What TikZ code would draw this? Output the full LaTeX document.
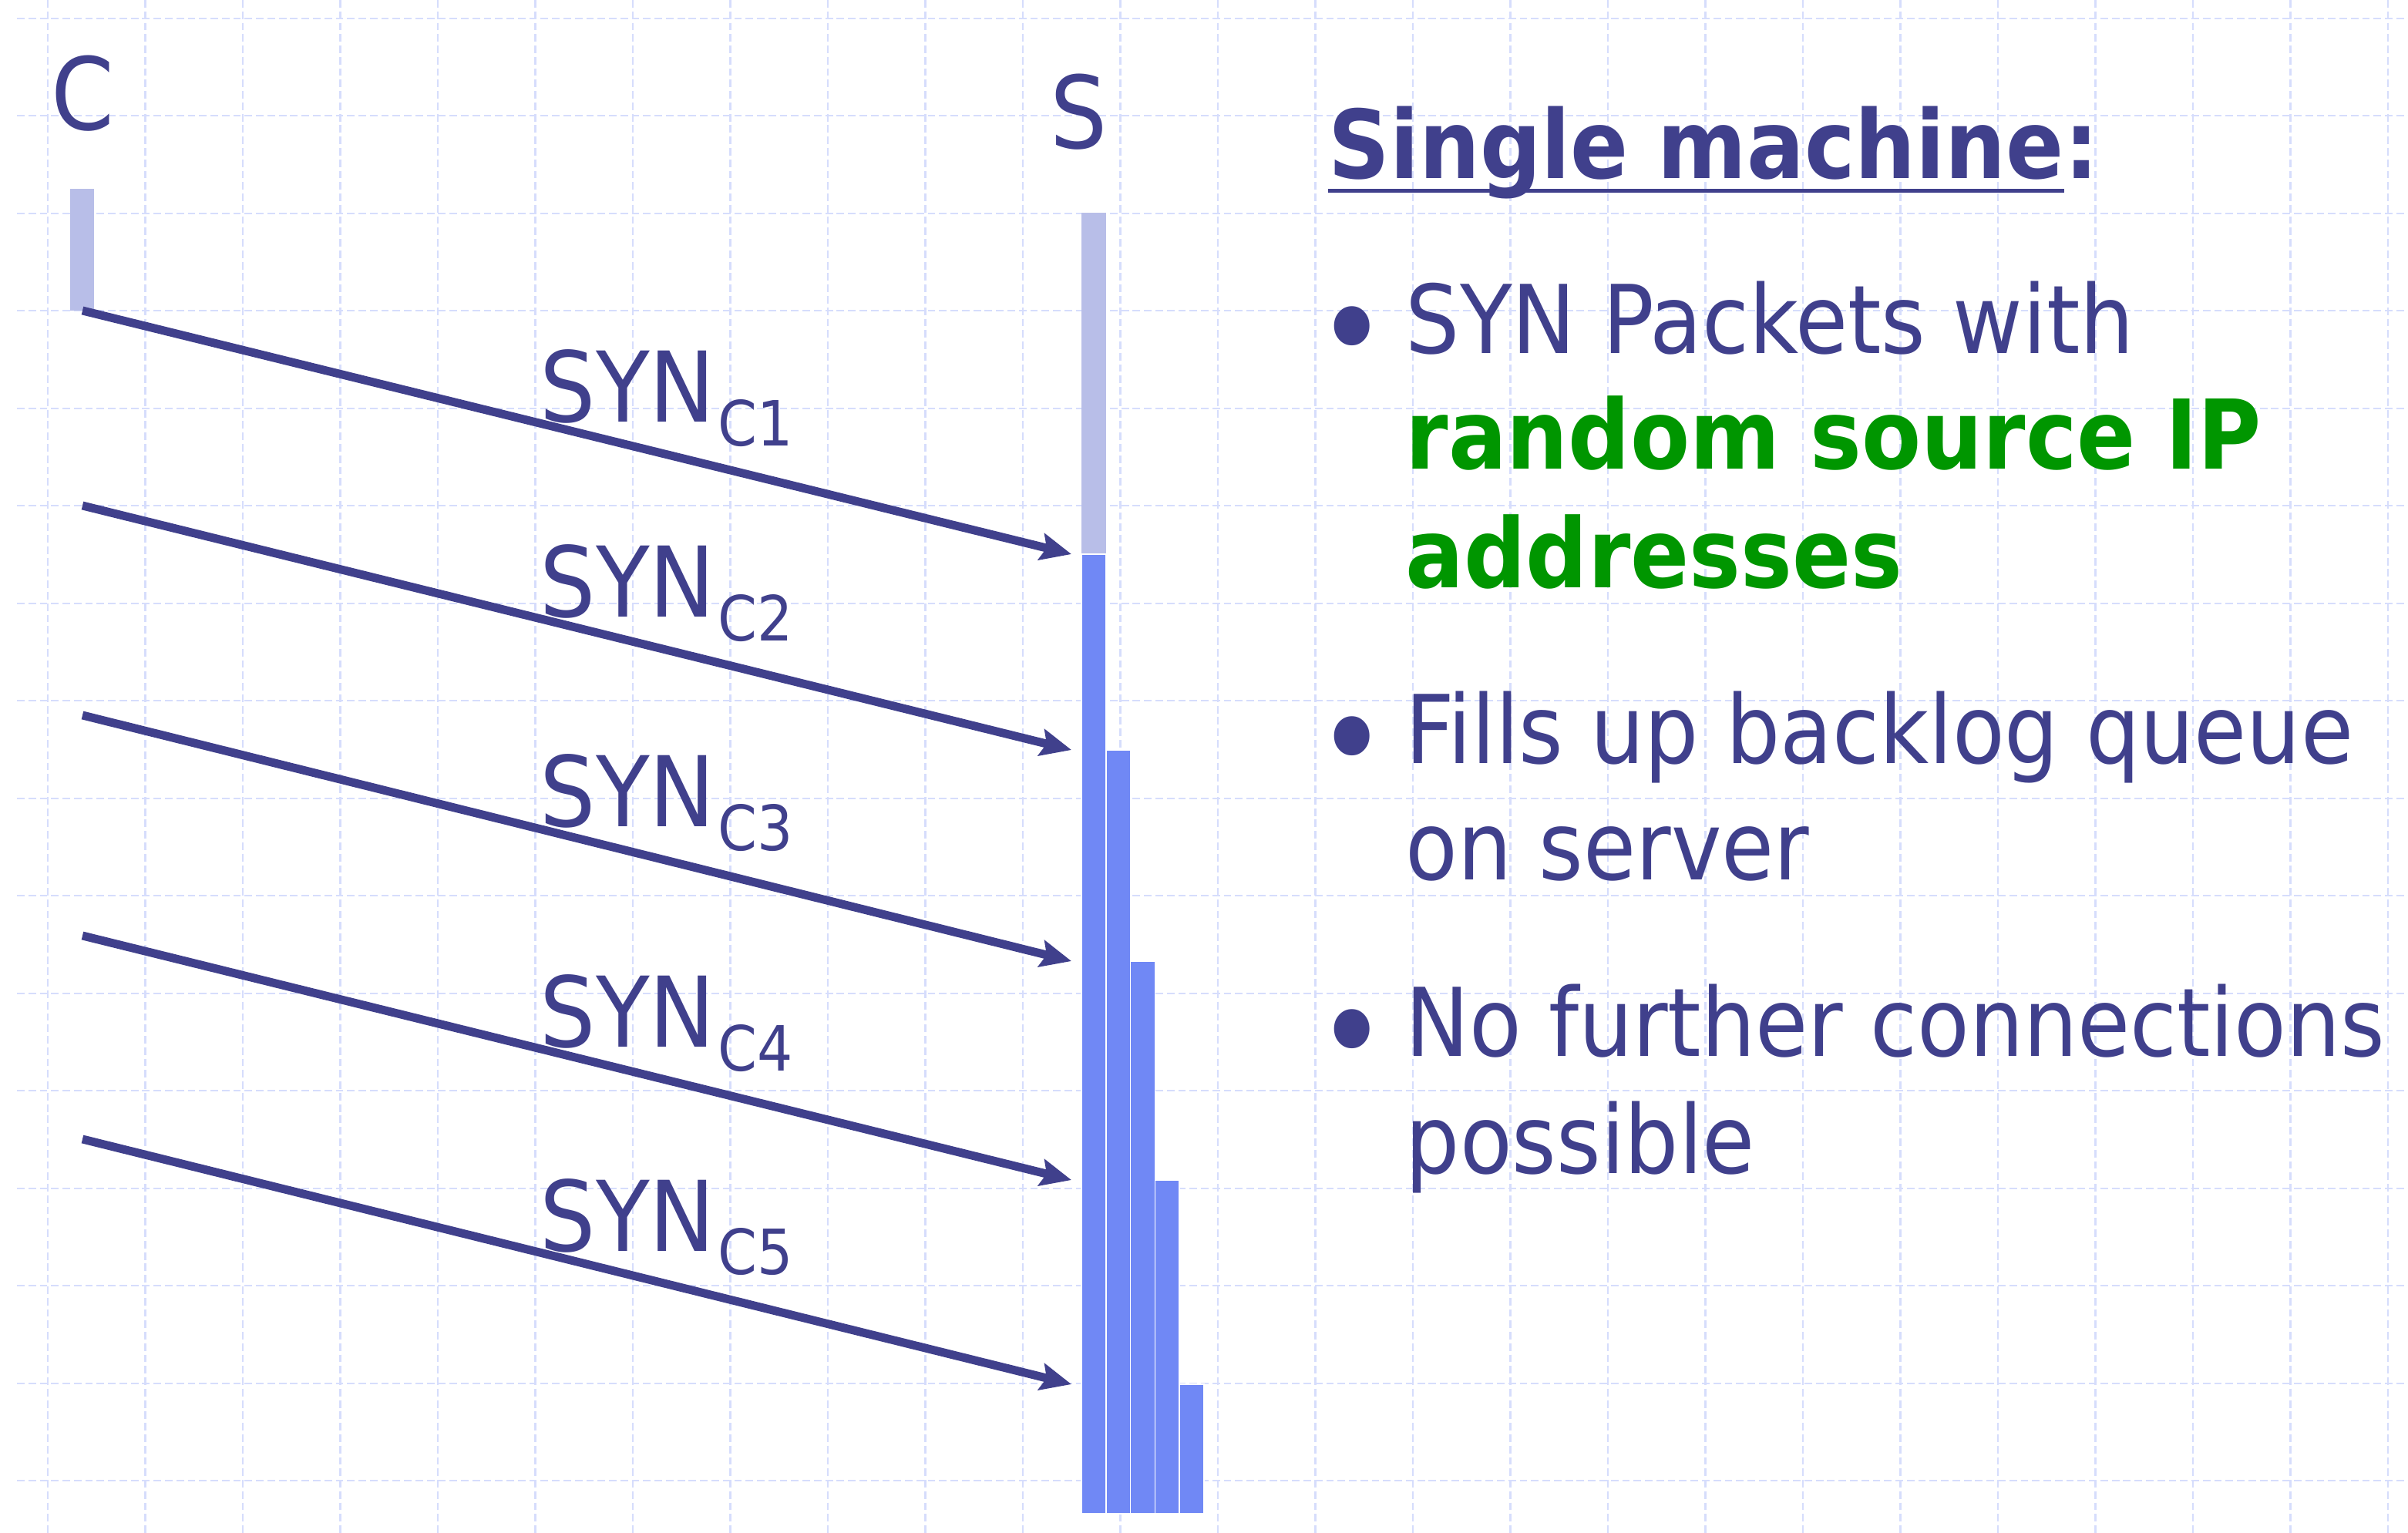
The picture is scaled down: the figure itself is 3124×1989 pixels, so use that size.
\documentclass[tikz,border=0pt]{standalone}
\usepackage{fontspec}
\setmainfont{DejaVu Sans Condensed}[BoldFont={DejaVu Sans Condensed Bold}]
\usetikzlibrary{arrows.meta, positioning}

\definecolor{navy}{RGB}{64,64,140}
\definecolor{lightbar}{RGB}{184,190,232}
\definecolor{queuebar}{RGB}{112,136,245}
\definecolor{slidegreen}{RGB}{0,150,0}
\definecolor{gridblue}{RGB}{214,221,252}

\tikzset{
  gridline/.style={draw=gridblue, line width=0.6pt, dash pattern=on 2.8pt off 1.4pt},
  synarrow/.style={draw=navy, line width=3.1pt,
                   -{Stealth[length=0.4cm, width=0.35cm, inset=0.07cm]}},
  txt/.style={anchor=base west, inner sep=0pt, text=navy,
              font=\fontsize{35}{42}\selectfont},
  hosttxt/.style={anchor=base, inner sep=0pt, text=navy,
                  font=\fontsize{37}{42}\selectfont},
  dottxt/.style={txt, font=\fontsize{50}{50}\selectfont},
}

\begin{document}
\begin{tikzpicture}[x=0.01cm, y=-0.01cm]
\useasboundingbox (0,0) rectangle (3124,1989);
\fill[white] (0,0) rectangle (3124,1989);

% background grid
\foreach \k in {0,...,24}
    \draw[gridline] (62+126.5*\k, 0) -- (62+126.5*\k, 1989);
\foreach \k in {0,...,15}
    \draw[gridline] (22, 23.6+126.5*\k) -- (3124, 23.6+126.5*\k);

% client and server
\node[hosttxt] (client) at (107, 169) {C};
\node[hosttxt] (server) at (1400, 193) {S};
\fill[lightbar] (91,245) rectangle (122,403);
\fill[lightbar] (1403,276) rectangle (1434.8,719);

% backlog queue
\foreach \k/\top in {0/719, 1/973, 2/1247, 3/1531, 4/1796}
    \filldraw[fill=queuebar, draw=white, line width=0.5pt]
        (1403+31.8*\k, \top) rectangle (1434.8+31.8*\k, 1964);

% SYN packets
\foreach \i/\ys/\ye in {1/403/719, 2/656/973, 3/928/1247, 4/1214/1531, 5/1478/1796}{
    \coordinate (c\i) at (107, \ys);
    \coordinate (s\i) at (1390, \ye);
    \draw[synarrow] (c\i) -- (s\i);
    \node[txt, font=\fontsize{36}{42}\selectfont] (syn\i) at (700, \ys+145)
        {SYN\kern1pt\raisebox{-8.8pt}{\fontsize{23}{24}\selectfont C\i}};
}

% text on the right
\node[txt, font=\fontsize{35}{42}\bfseries] (title) at (1723, 232) {Single machine};
\node[txt, font=\fontsize{35}{42}\bfseries] (colon) at (title.base east) {:};
\draw[navy, line width=1.4pt] ([yshift=-4.3pt]title.base west) -- ([yshift=-4.3pt]title.base east);

\node[dottxt] (dot1) at (1707, 489) {•};
\node[txt] (b1a) at (1823, 459) {SYN Packets with};
\node[txt, text=slidegreen, font=\fontsize{35.5}{42}\bfseries] (b1b) at (1823, 609) {random source IP};
\node[txt, text=slidegreen, font=\fontsize{35.5}{42}\bfseries] (b1c) at (1823, 763) {addresses};

\node[dottxt] (dot2) at (1707, 1021) {•};
\node[txt] (b2a) at (1823, 991) {Fills up backlog queue};
\node[txt] (b2b) at (1823, 1142) {on server};

\node[dottxt] (dot3) at (1707, 1400) {•};
\node[txt] (b3a) at (1823, 1370) {No further connections};
\node[txt] (b3b) at (1823, 1522) {possible};
\end{tikzpicture}
\end{document}
